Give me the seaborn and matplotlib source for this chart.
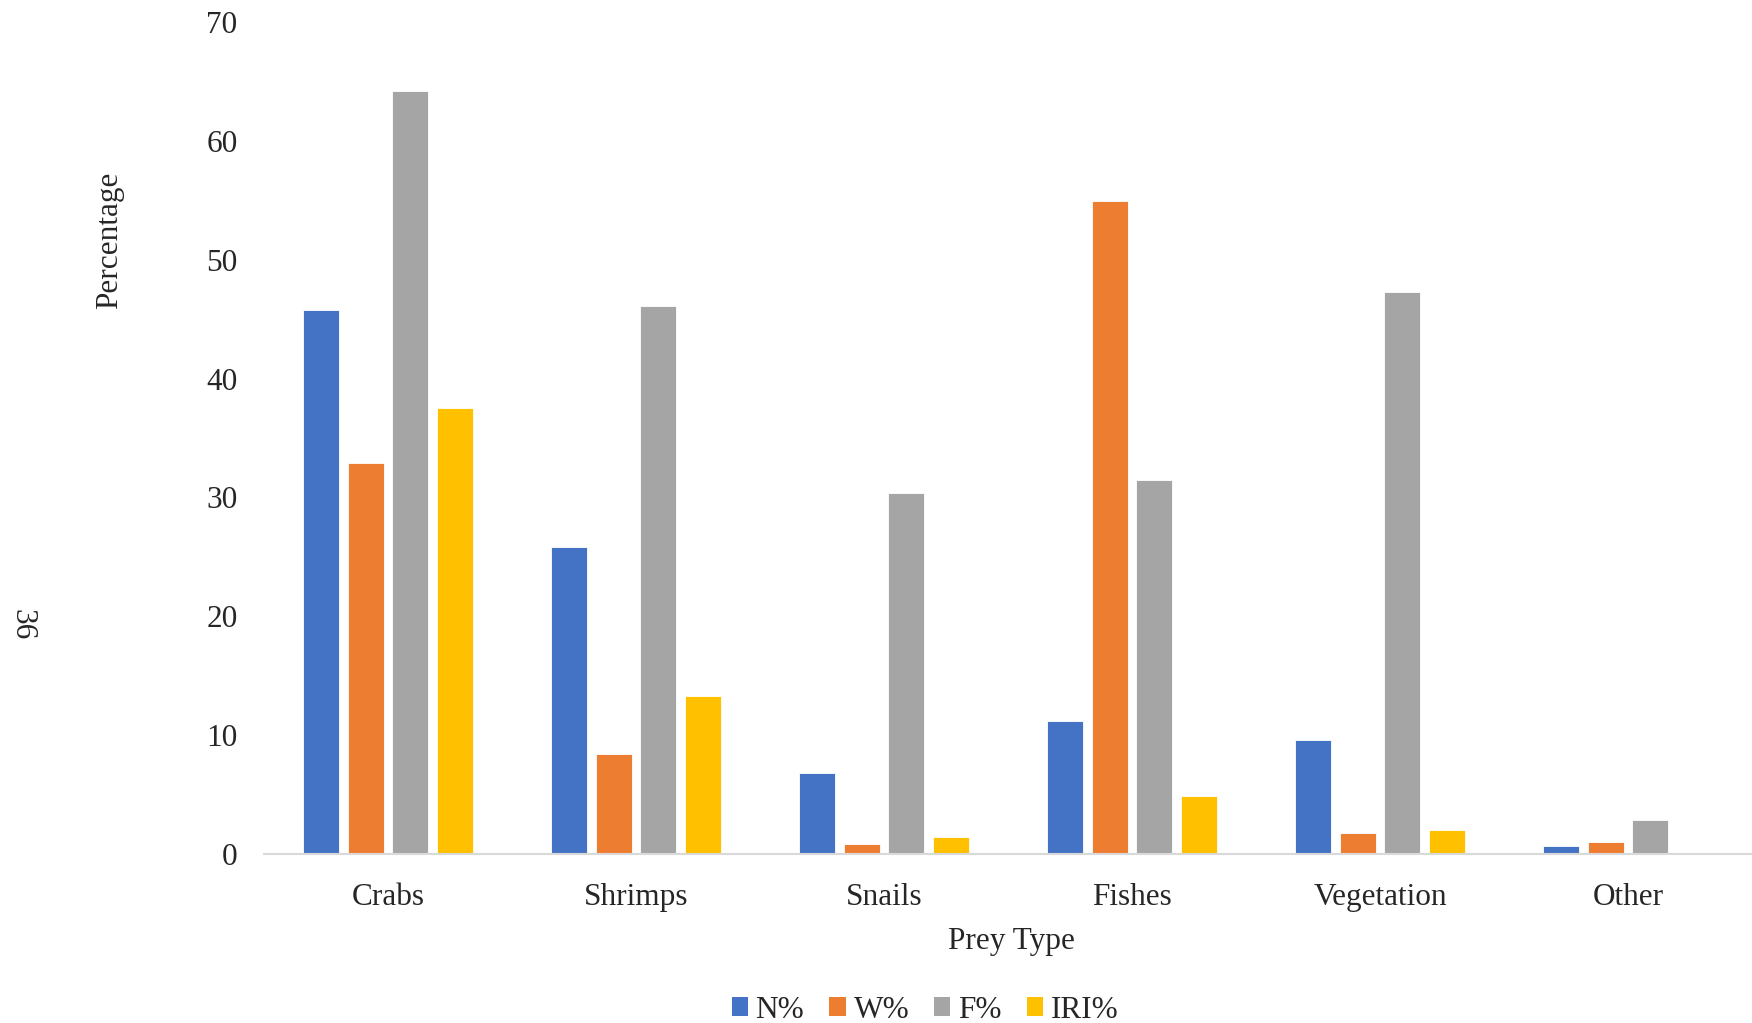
import matplotlib
matplotlib.use("Agg")
import matplotlib.pyplot as plt
import seaborn as sns
import pandas as pd
from matplotlib.patches import Patch

categories = ["Crabs", "Shrimps", "Snails", "Fishes", "Vegetation", "Other"]
series_names = ["N%", "W%", "F%", "IRI%"]
n_pct = [45.8, 25.8, 6.8, 11.2, 9.6, 0.7]
w_pct = [32.9, 8.4, 0.8, 54.9, 1.8, 1.0]
f_pct = [64.2, 46.1, 30.4, 31.5, 47.3, 2.9]
iri_pct = [37.5, 13.3, 1.4, 4.9, 2.0, 0.0]
colors = ["#4472C4", "#ED7D31", "#A5A5A5", "#FFC000"]
y_ticks = [0, 10, 20, 30, 40, 50, 60, 70]

rows = []
for name, vals in zip(series_names, [n_pct, w_pct, f_pct, iri_pct]):
    for c, v in zip(categories, vals):
        rows.append({"Prey Type": c, "Series": name, "Percentage": v})
df = pd.DataFrame(rows)

sns.set_theme(style="white")
plt.rcParams["font.family"] = ["Liberation Serif", "DejaVu Serif"]

fig = plt.figure(figsize=(17.52, 10.23), dpi=100)
ax = fig.add_axes([264 / 1752, 1 - 854 / 1023, (1752 - 264) / 1752, (854 - 22) / 1023])

sns.barplot(data=df, x="Prey Type", y="Percentage", hue="Series",
            order=categories, hue_order=series_names, palette=colors,
            width=0.72, gap=0.2, ax=ax, legend=False,
            edgecolor="white", linewidth=0.6, saturation=1)

ax.set_ylim(0, 70)
ax.set_xlim(-0.5, len(categories) - 0.5)
ax.set_yticks(y_ticks)
ax.set_yticklabels([str(t) for t in y_ticks], fontsize=22.5)
ax.tick_params(axis="x", labelsize=22.5, length=0, pad=21)
ax.tick_params(axis="y", length=0, pad=19)
ax.set_xlabel("")
ax.set_ylabel("")
for s in ["top", "right", "left"]:
    ax.spines[s].set_visible(False)
ax.spines["bottom"].set_color("#D9D9D9")
ax.spines["bottom"].set_linewidth(1.5)
ax.grid(False)

fig.text(1011 / 1752, 1 - 941 / 1023, "Prey Type", ha="center", va="center", fontsize=22.5)
fig.text(110 / 1752, 1 - 240 / 1023, "Percentage", ha="center", va="center",
         rotation=90, fontsize=22.5)
fig.text(22 / 1752, 1 - 625 / 1023, "36", ha="center", va="center",
         rotation=-90, fontsize=22.5)

handles = [Patch(facecolor=c, edgecolor="none") for c in colors]
fig.legend(handles, series_names, loc="center", bbox_to_anchor=(925 / 1752, 1 - 1010 / 1023),
           ncol=4, frameon=False, fontsize=22.5, handlelength=0.52, handleheight=0.52,
           handletextpad=0.25, columnspacing=0.8, borderpad=0.1)

fig.savefig("out.png", dpi=100, facecolor="white")
